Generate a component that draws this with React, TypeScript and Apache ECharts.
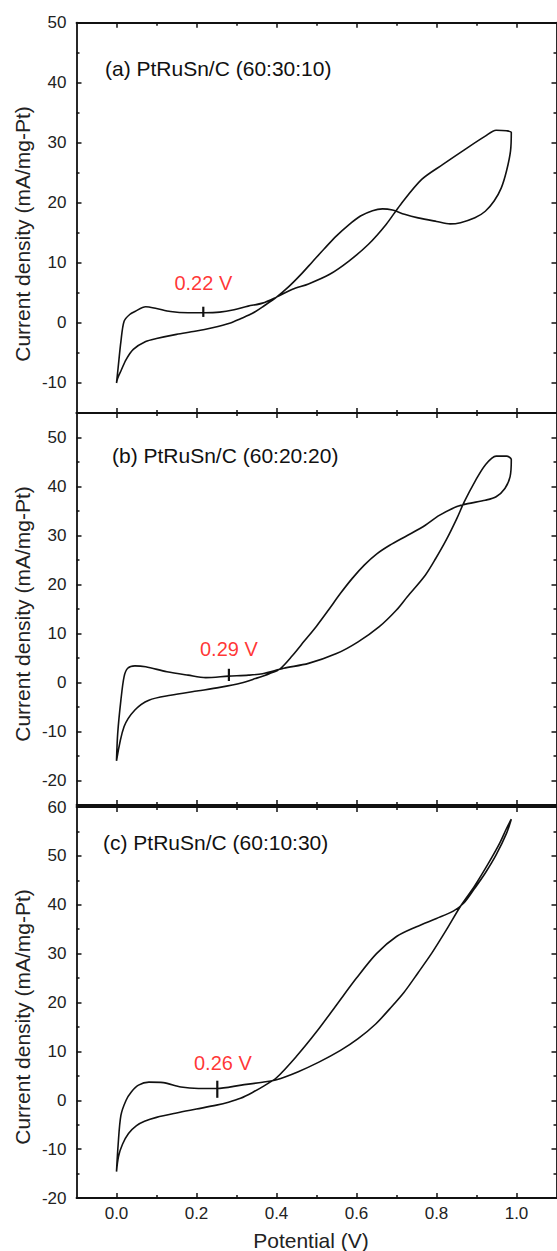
import React, { useEffect, useRef } from "react";
import * as echarts from "echarts";

// ---------- data ----------
const X_MAJOR = [0, 0.2, 0.4, 0.6, 0.8, 1.0];
const X_MINOR = [0.1, 0.3, 0.5, 0.7, 0.9];

// Panel (a) PtRuSn/C (60:30:10): CV loop, forward then reverse scan
const aPot = [
  0, 0.004, 0.011, 0.019, 0.033, 0.046, 0.073, 0.1, 0.135, 0.179, 0.219, 0.258, 0.294, 0.329, 0.365, 0.4,
  0.44, 0.48, 0.533, 0.581, 0.63, 0.674, 0.71, 0.763, 0.816, 0.878, 0.922, 0.949, 0.975, 0.987,
  0.985, 0.975, 0.962, 0.944, 0.922, 0.896, 0.86, 0.834, 0.8, 0.754, 0.72, 0.69, 0.665, 0.64, 0.61, 0.58, 0.55, 0.52,
  0.49, 0.46, 0.43, 0.4, 0.37, 0.34, 0.31, 0.285, 0.24, 0.196, 0.15, 0.1, 0.073, 0.042, 0.024, 0.011, 0.003, 0,
];
const aCur = [
  -10, -7.5, -3.1, 0.3, 1.4, 1.9, 2.7, 2.4, 1.9, 1.7, 1.7, 1.8, 2.2, 2.8, 3.3, 4.3,
  5.6, 6.5, 8.1, 10.3, 13.1, 16.4, 19.7, 23.9, 26.4, 29.2, 31.1, 32.1, 32.0, 31.7,
  28.6, 25.3, 22.5, 20.3, 18.6, 17.5, 16.7, 16.5, 16.9, 17.5, 18.1, 18.8, 19.0, 18.7, 17.8, 16.3, 14.5, 12.4,
  10.2, 8.0, 6.0, 4.3, 2.9, 1.6, 0.7, 0.0, -0.8, -1.4, -1.9, -2.6, -3.1, -4.4, -6.1, -8.0, -9.2, -10,
];

// Panel (b) PtRuSn/C (60:20:20)
const bPot = [
  0, 0.003, 0.011, 0.019, 0.028, 0.046, 0.073, 0.126, 0.179, 0.223, 0.28, 0.33, 0.365, 0.418, 0.48, 0.55,
  0.604, 0.657, 0.7, 0.727, 0.772, 0.798, 0.825, 0.851, 0.869, 0.896, 0.922, 0.949, 0.975, 0.987,
  0.984, 0.971, 0.949, 0.922, 0.878, 0.851, 0.807, 0.772, 0.727, 0.683, 0.65, 0.62, 0.59, 0.56, 0.53,
  0.5, 0.47, 0.44, 0.409, 0.382, 0.347, 0.312, 0.258, 0.205, 0.135, 0.081, 0.046, 0.019, 0,
];
const bCur = [
  -16, -10.4, -3.6, 1.2, 2.9, 3.4, 3.2, 2.2, 1.5, 1.0, 1.3, 1.5, 1.8, 2.9, 3.9, 5.9,
  8.3, 11.4, 14.8, 17.5, 21.9, 25.3, 29.2, 33.5, 36.8, 41.0, 44.4, 46.2, 46.2, 45.5,
  42, 39.6, 37.9, 37.2, 36.5, 35.9, 34.1, 32.1, 30.0, 28.0, 26.2, 24.0, 21.3, 18.2, 14.8,
  11.5, 8.5, 5.5, 2.8, 1.8, 0.8, -0.1, -1.0, -1.7, -2.6, -3.6, -5.6, -9.0, -16,
];

// Panel (c) PtRuSn/C (60:10:30)
const cPot = [
  0, 0.004, 0.011, 0.024, 0.037, 0.055, 0.081, 0.117, 0.161, 0.205, 0.251, 0.312, 0.365, 0.4,
  0.453, 0.506, 0.56, 0.604, 0.648, 0.683, 0.718, 0.754, 0.789, 0.825, 0.86, 0.895, 0.93, 0.958, 0.975, 0.987,
  0.975, 0.949, 0.922, 0.895, 0.869, 0.842, 0.8, 0.75, 0.7, 0.65, 0.6, 0.55,
  0.5, 0.45, 0.4, 0.37, 0.34, 0.31, 0.28, 0.25, 0.2, 0.15, 0.1, 0.07, 0.05, 0.03, 0.015, 0.005, 0,
];
const cCur = [
  -14.6, -9.2, -3.1, 0, 1.7, 3.1, 3.7, 3.6, 2.7, 2.4, 2.4, 3.1, 3.7, 4.2,
  5.8, 7.8, 10.2, 12.6, 15.6, 18.7, 22.0, 26.1, 30.2, 34.9, 39.7, 43.8, 48.5, 52.6, 55.6, 57.5,
  54.6, 50.2, 46.5, 43.3, 40.4, 38.7, 37.2, 35.5, 33.5, 30.0, 25.0, 19.5,
  14.0, 9.0, 4.6, 3.0, 1.6, 0.4, -0.4, -1.0, -1.8, -2.6, -3.5, -4.3, -5.2, -6.8, -9.0, -11.5, -14.6,
];

// onset markers (potential, low, high) and annotation labels
const markA = [0.217, 1.0, 2.7];
const markB = [0.281, 0.3, 2.8];
const markC = [0.252, 0.5, 4.0];
const labelA = { text: "0.22 V", x: 0.217, y: 6.6 };
const labelB = { text: "0.29 V", x: 0.281, y: 6.8 };
const labelC = { text: "0.26 V", x: 0.266, y: 7.6 };

const titles = ["(a) PtRuSn/C (60:30:10)", "(b) PtRuSn/C (60:20:20)", "(c) PtRuSn/C (60:10:30)"];
const yName = "Current density (mA/mg-Pt)";
const xName = "Potential (V)";

const yRanges = [
  { min: -15, max: 50, major: [-10, 0, 10, 20, 30, 40, 50], minor: [-15, -5, 5, 15, 25, 35, 45] },
  { min: -25, max: 55, major: [-20, -10, 0, 10, 20, 30, 40, 50], minor: [-25, -15, -5, 5, 15, 25, 35, 45] },
  { min: -20, max: 60, major: [-20, -10, 0, 10, 20, 30, 40, 50, 60], minor: [-15, -5, 5, 15, 25, 35, 45, 55] },
];

const FONT = "'Liberation Sans', Arial, sans-serif";
const INK = "#111";

export default function App() {
  const ref = useRef<HTMLDivElement>(null);
  useEffect(() => {
    if (!ref.current) return;
    const chart = echarts.init(ref.current, undefined, { renderer: "svg" });

    const grids = [
      { left: 76.5, width: 480, top: 22.7, height: 390.3 },
      { left: 76.5, width: 480, top: 413, height: 392 },
      { left: 76.5, width: 480, top: 807, height: 391 },
    ];

    const lineStyle = { color: INK, width: 1.8 };
    const xAxes: any[] = [];
    const yAxes: any[] = [];
    grids.forEach((_, g) => {
      const last = g === 2;
      const mk = (pos: string, major: boolean) => ({
        gridIndex: g,
        type: "value",
        min: -0.1,
        max: 1.1,
        position: pos,
        axisLine: { show: major, onZero: false, lineStyle },
        axisTick: {
          show: true,
          inside: true,
          length: major ? 5 : 3,
          customValues: major ? X_MAJOR : X_MINOR,
          lineStyle: { color: INK, width: 1.5 },
        },
        axisLabel: {
          show: last && pos === "bottom" && major,
          customValues: X_MAJOR,
          formatter: (v: number) => v.toFixed(1),
          margin: 7,
          fontSize: 17,
          fontFamily: FONT,
          color: "#222",
        },
        splitLine: { show: false },
      });
      xAxes.push(mk("bottom", true), mk("bottom", false), mk("top", true), mk("top", false));

      const r = yRanges[g];
      const mky = (pos: string, major: boolean) => ({
        gridIndex: g,
        type: "value",
        min: r.min,
        max: r.max,
        position: pos,
        axisLine: { show: major, onZero: false, lineStyle },
        axisTick: {
          show: true,
          inside: true,
          length: major ? 5 : 3,
          customValues: major ? r.major : r.minor,
          lineStyle: { color: INK, width: 1.5 },
        },
        axisLabel: {
          show: pos === "left" && major,
          customValues: r.major,
          formatter: (v: number) => String(v),
          margin: 10,
          fontSize: 17,
          fontFamily: FONT,
          color: "#222",
        },
        splitLine: { show: false },
      });
      yAxes.push(mky("left", true), mky("left", false), mky("right", true), mky("right", false));
    });

    const pots = [aPot, bPot, cPot];
    const curs = [aCur, bCur, cCur];
    const marks = [markA, markB, markC];
    const labels = [labelA, labelB, labelC];

    const series: any[] = [];
    for (let g = 0; g < 3; g++) {
      const ax = g * 4;
      series.push({
        type: "line",
        xAxisIndex: ax,
        yAxisIndex: ax,
        data: pots[g].map((p, i) => [p, curs[g][i]]),
        showSymbol: false,
        symbol: "none",
        smooth: 0.3,
        lineStyle: { color: INK, width: 1.6 },
        z: 3,
      });
      const m = marks[g];
      series.push({
        type: "line",
        xAxisIndex: ax,
        yAxisIndex: ax,
        data: [
          [m[0], m[1]],
          [m[0], m[2]],
        ],
        symbol: "none",
        lineStyle: { color: INK, width: 2.2 },
        z: 4,
      });
      const l = labels[g];
      series.push({
        type: "scatter",
        xAxisIndex: ax,
        yAxisIndex: ax,
        data: [[l.x, l.y]],
        symbolSize: 0,
        label: {
          show: true,
          position: "inside",
          formatter: l.text,
          fontSize: 20,
          fontFamily: FONT,
          color: "#ff0000",
        },
        z: 5,
      });
    }

    const titlePos = [
      { left: 105, top: 58 },
      { left: 112, top: 445 },
      { left: 103, top: 832 },
    ];
    const yNameCenters = [234, 614, 1017];

    const graphic: any[] = titles.map((t, i) => ({
      type: "text",
      left: titlePos[i].left,
      top: titlePos[i].top,
      style: { text: t, fontSize: 21, fontFamily: FONT, fill: "#111" },
    }));
    yNameCenters.forEach((cy) => {
      graphic.push({
        type: "text",
        x: 22,
        y: cy,
        rotation: Math.PI / 2,
        style: {
          text: yName,
          fontSize: 21,
          fontFamily: FONT,
          fill: "#222",
          align: "center",
          verticalAlign: "middle",
        },
      });
    });
    graphic.push({
      type: "text",
      x: 311,
      y: 1240,
      style: {
        text: xName,
        fontSize: 21,
        fontFamily: FONT,
        fill: "#222",
        align: "center",
        verticalAlign: "middle",
      },
    });

    chart.setOption({
      animation: false,
      backgroundColor: "#ffffff",
      grid: grids,
      xAxis: xAxes,
      yAxis: yAxes,
      series,
      graphic,
    });
    return () => chart.dispose();
  }, []);
  return (
    <div
      ref={ref}
      style={{ position: "absolute", left: 0, top: 0, width: 557, height: 1251 }}
    />
  );
}
